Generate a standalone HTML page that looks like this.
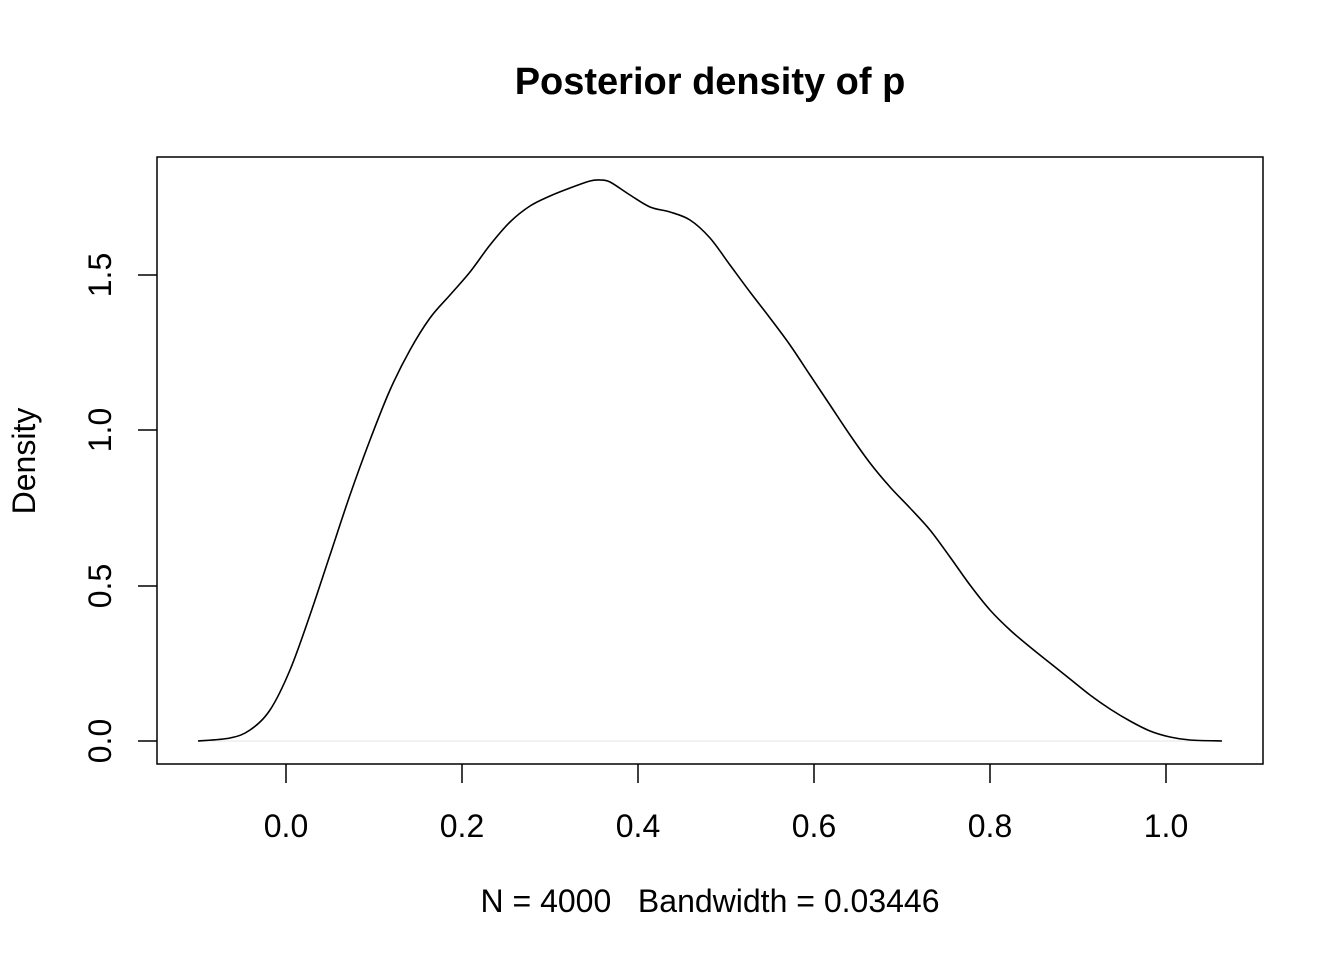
<!DOCTYPE html>
<html><head><style>body{margin:0;background:#fff}</style></head><body>
<svg width="1344" height="960" xmlns="http://www.w3.org/2000/svg" font-family="Liberation Sans, Arial, sans-serif">
<rect width="1344" height="960" fill="#fff"/>
<text x="710" y="94" font-size="38" font-weight="bold" text-anchor="middle">Posterior density of p</text>
<rect x="157" y="157" width="1106" height="607" fill="none" stroke="#000" stroke-width="1.5"/>
<line x1="198" y1="741" x2="1222" y2="741" stroke="#e6e6e6" stroke-width="1"/>
<path id="c" fill="none" stroke="#000" stroke-width="1.6" stroke-linejoin="round"/>
<g stroke="#000" stroke-width="1.5">
<line x1="286" y1="764" x2="286" y2="783"/><line x1="462" y1="764" x2="462" y2="783"/><line x1="638" y1="764" x2="638" y2="783"/><line x1="814" y1="764" x2="814" y2="783"/><line x1="990" y1="764" x2="990" y2="783"/><line x1="1166" y1="764" x2="1166" y2="783"/>
<line x1="157" y1="741" x2="138" y2="741"/><line x1="157" y1="586" x2="138" y2="586"/><line x1="157" y1="430" x2="138" y2="430"/><line x1="157" y1="275" x2="138" y2="275"/>
</g>
<g font-size="32" text-anchor="middle">
<text x="286" y="837">0.0</text><text x="462" y="837">0.2</text><text x="638" y="837">0.4</text><text x="814" y="837">0.6</text><text x="990" y="837">0.8</text><text x="1166" y="837">1.0</text>
<text transform="translate(111,741) rotate(-90)">0.0</text>
<text transform="translate(111,586) rotate(-90)">0.5</text>
<text transform="translate(111,430) rotate(-90)">1.0</text>
<text transform="translate(111,275) rotate(-90)">1.5</text>
<text transform="translate(35,461) rotate(-90)">Density</text>
<text x="710" y="912" xml:space="preserve">N = 4000   Bandwidth = 0.03446</text>
</g>
</svg>
<script>
var p=[[198,741],[230,738],[250,730],[270,710],[290,670],[310,615],[330,555],[350,495],[370,440],[390,390],[410,350],[430,318],[450,295],[470,272],[490,245],[510,222],[530,206],[550,196],[570,188],[590,181],[600,180],[610,182],[630,195],[650,207],[670,212],[690,220],[710,238],[730,265],[750,292],[770,318],[790,345],[810,375],[830,405],[850,435],[870,463],[890,487],[910,508],[930,530],[950,557],[970,585],[990,610],[1010,630],[1030,647],[1050,663],[1070,679],[1090,695],[1110,709],[1130,721],[1150,731],[1170,737],[1190,740],[1222,741]];
var d="M"+p[0];
for(var i=0;i<p.length-1;i++){var a=p[i-1]||p[i],b=p[i],c=p[i+1],e=p[i+2]||c;
d+=" C"+(b[0]+(c[0]-a[0])/6)+","+(b[1]+(c[1]-a[1])/6)+" "+(c[0]-(e[0]-b[0])/6)+","+(c[1]-(e[1]-b[1])/6)+" "+c[0]+","+c[1];}
document.getElementById("c").setAttribute("d",d);
</script>
</body></html>
